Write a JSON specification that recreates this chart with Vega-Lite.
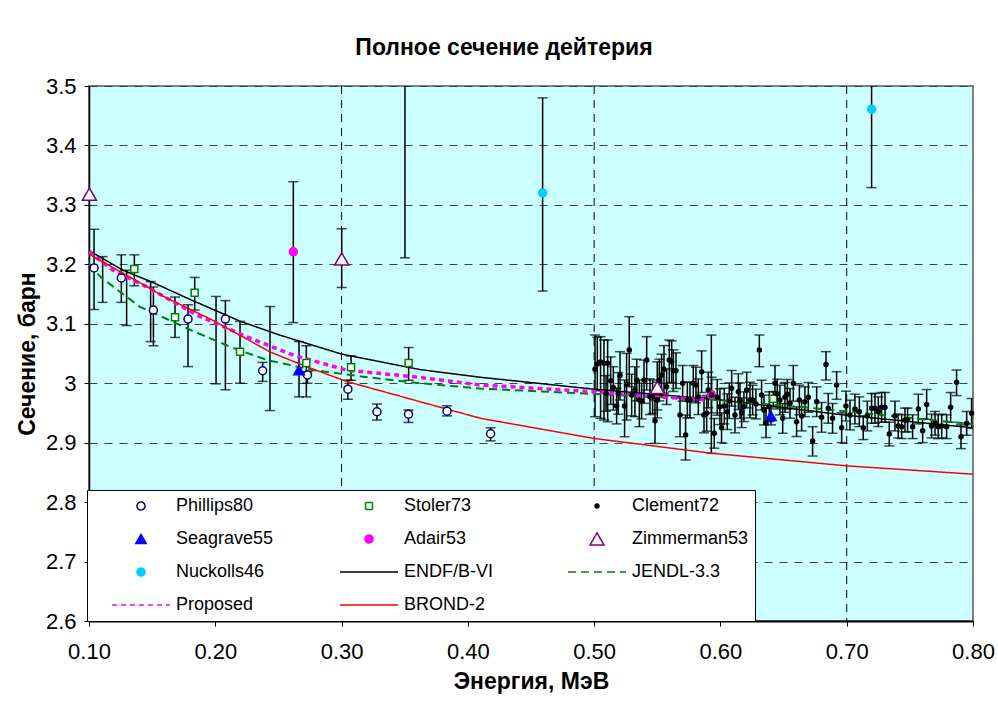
{
"$schema":"https://vega.github.io/schema/vega-lite/v6.json",
"autosize":{"type":"none"},
"padding":{"left":89,"top":86,"right":25,"bottom":93},
"width":884,"height":535,
"title":{"text":"Полное сечение дейтерия","fontSize":23,"fontWeight":"bold","font":"Liberation Sans","anchor":"middle","frame":"group","offset":15,"dx":-27,"color":"#000000"},
"datasets":{
"vg":[{"g":0.3},{"g":0.5},{"g":0.7}],
"pts":[
{"s":"Phillips80","x":0.104,"y":3.194,"lo":3.124,"hi":3.259},
{"s":"Phillips80","x":0.1256,"y":3.177,"lo":3.136,"hi":3.216},
{"s":"Phillips80","x":0.151,"y":3.123,"lo":3.063,"hi":3.162},
{"s":"Phillips80","x":0.1784,"y":3.108,"lo":3.028,"hi":3.132},
{"s":"Phillips80","x":0.208,"y":3.108,"lo":2.989,"hi":3.139},
{"s":"Phillips80","x":0.2375,"y":3.021,"lo":3.003,"hi":3.035},
{"s":"Phillips80","x":0.273,"y":3.014,"lo":3.000,"hi":3.0195},
{"s":"Phillips80","x":0.305,"y":2.990,"lo":2.973,"hi":3.005},
{"s":"Phillips80","x":0.328,"y":2.952,"lo":2.938,"hi":2.965},
{"s":"Phillips80","x":0.353,"y":2.948,"lo":2.934,"hi":2.955},
{"s":"Phillips80","x":0.3835,"y":2.953,"lo":2.945,"hi":2.962},
{"s":"Phillips80","x":0.418,"y":2.915,"lo":2.903,"hi":2.925},
{"s":"Phillips80","x":0.1108,"y":null,"lo":3.136,"hi":3.213},
{"s":"Phillips80","x":0.1298,"y":null,"lo":3.097,"hi":3.19},
{"s":"Phillips80","x":0.1488,"y":null,"lo":3.07,"hi":3.171},
{"s":"Phillips80","x":0.2006,"y":null,"lo":2.999,"hi":3.146},
{"s":"Phillips80","x":0.2433,"y":null,"lo":2.954,"hi":3.129},
{"s":"Stoler73","x":0.1359,"y":3.192,"lo":3.164,"hi":3.216},
{"s":"Stoler73","x":0.1681,"y":3.111,"lo":3.077,"hi":3.145},
{"s":"Stoler73","x":0.1837,"y":3.152,"lo":3.123,"hi":3.178},
{"s":"Stoler73","x":0.2196,"y":3.053,"lo":3.0,"hi":3.104},
{"s":"Stoler73","x":0.2721,"y":3.034,"lo":2.977,"hi":3.063},
{"s":"Stoler73","x":0.3075,"y":3.027,"lo":3.005,"hi":3.046},
{"s":"Stoler73","x":0.3531,"y":3.034,"lo":3.005,"hi":3.06},
{"s":"Stoler73","x":0.6418,"y":2.974,"lo":2.962,"hi":2.986},
{"s":"Seagrave55","x":0.2663,"y":3.022,"lo":2.977,"hi":3.07},
{"s":"Seagrave55","x":0.640,"y":2.945,"lo":2.93,"hi":2.96},
{"s":"Adair53","x":0.2618,"y":3.221,"lo":3.102,"hi":3.339},
{"s":"Adair53","x":0.5928,"y":2.981,"lo":2.882,"hi":3.081},
{"s":"Zimmerman53","x":0.1003,"y":3.318,"lo":null,"hi":null},
{"s":"Zimmerman53","x":0.3001,"y":3.209,"lo":3.161,"hi":3.26},
{"s":"Zimmerman53","x":0.550,"y":2.993,"lo":2.955,"hi":3.036},
{"s":"Nuckolls46","x":0.4592,"y":3.320,"lo":3.155,"hi":3.480},
{"s":"Nuckolls46","x":0.7197,"y":3.461,"lo":3.329,"hi":3.593},
{"s":"Nuckolls46","x":0.3502,"y":null,"lo":3.211,"hi":4.01},
{"s":"Clement72","x":0.5007,"y":3.0233,"lo":2.9437,"hi":3.0811},
{"s":"Clement72","x":0.5025,"y":3.0323,"lo":2.9873,"hi":3.0773},
{"s":"Clement72","x":0.5051,"y":3.0357,"lo":2.9409,"hi":3.0783},
{"s":"Clement72","x":0.5078,"y":3.0334,"lo":2.9381,"hi":3.0727},
{"s":"Clement72","x":0.5094,"y":2.9829,"lo":2.9529,"hi":3.0129},
{"s":"Clement72","x":0.5107,"y":3.0334,"lo":2.9353,"hi":3.0727},
{"s":"Clement72","x":0.5131,"y":3.0043,"lo":2.9643,"hi":3.0443},
{"s":"Clement72","x":0.5152,"y":2.9930,"lo":2.9549,"hi":3.0278},
{"s":"Clement72","x":0.5178,"y":2.9616,"lo":2.9316,"hi":2.9916},
{"s":"Clement72","x":0.5191,"y":2.9829,"lo":2.9479,"hi":3.0179},
{"s":"Clement72","x":0.5205,"y":3.0132,"lo":2.9717,"hi":3.0531},
{"s":"Clement72","x":0.5241,"y":2.9616,"lo":2.9100,"hi":3.0054},
{"s":"Clement72","x":0.5257,"y":2.9987,"lo":2.9381,"hi":3.0502},
{"s":"Clement72","x":0.5278,"y":3.0559,"lo":2.9942,"hi":3.1119},
{"s":"Clement72","x":0.5297,"y":2.9801,"lo":2.9451,"hi":3.0151},
{"s":"Clement72","x":0.5323,"y":2.9886,"lo":2.9437,"hi":3.0278},
{"s":"Clement72","x":0.5337,"y":3.0054,"lo":2.9704,"hi":3.0404},
{"s":"Clement72","x":0.5358,"y":2.9717,"lo":2.9269,"hi":3.0054},
{"s":"Clement72","x":0.5376,"y":2.9700,"lo":2.9400,"hi":3.0000},
{"s":"Clement72","x":0.5395,"y":3.0054,"lo":2.9662,"hi":3.0390},
{"s":"Clement72","x":0.5416,"y":3.0390,"lo":2.9886,"hi":3.0783},
{"s":"Clement72","x":0.5442,"y":2.9773,"lo":2.9473,"hi":3.0073},
{"s":"Clement72","x":0.5463,"y":2.9773,"lo":2.9493,"hi":3.0054},
{"s":"Clement72","x":0.5482,"y":2.9370,"lo":2.8988,"hi":2.9717},
{"s":"Clement72","x":0.5500,"y":2.9717,"lo":2.9417,"hi":3.0017},
{"s":"Clement72","x":0.5516,"y":3.0054,"lo":2.9704,"hi":3.0404},
{"s":"Clement72","x":0.5534,"y":3.0138,"lo":2.9788,"hi":3.0488},
{"s":"Clement72","x":0.5553,"y":3.0233,"lo":2.9833,"hi":3.0633},
{"s":"Clement72","x":0.5574,"y":2.9942,"lo":2.9642,"hi":3.0242},
{"s":"Clement72","x":0.5595,"y":3.0390,"lo":3.0000,"hi":3.0727},
{"s":"Clement72","x":0.5614,"y":3.0362,"lo":3.0012,"hi":3.0712},
{"s":"Clement72","x":0.5627,"y":3.0211,"lo":2.9861,"hi":3.0561},
{"s":"Clement72","x":0.5648,"y":3.0211,"lo":2.9911,"hi":3.0511},
{"s":"Clement72","x":0.5680,"y":2.9465,"lo":2.9100,"hi":2.9773},
{"s":"Clement72","x":0.5701,"y":2.9998,"lo":2.9698,"hi":3.0298},
{"s":"Clement72","x":0.5724,"y":2.9128,"lo":2.8708,"hi":2.9465},
{"s":"Clement72","x":0.5738,"y":2.9717,"lo":2.9417,"hi":3.0017},
{"s":"Clement72","x":0.5759,"y":2.9717,"lo":2.9417,"hi":3.0017},
{"s":"Clement72","x":0.5785,"y":2.9998,"lo":2.9698,"hi":3.0298},
{"s":"Clement72","x":0.5806,"y":2.9970,"lo":2.9670,"hi":3.0270},
{"s":"Clement72","x":0.5825,"y":2.9773,"lo":2.9473,"hi":3.0073},
{"s":"Clement72","x":0.5851,"y":3.0194,"lo":2.9844,"hi":3.0544},
{"s":"Clement72","x":0.5870,"y":2.9465,"lo":2.9165,"hi":2.9765},
{"s":"Clement72","x":0.5891,"y":2.9493,"lo":2.9193,"hi":2.9793},
{"s":"Clement72","x":0.5904,"y":2.9886,"lo":2.9586,"hi":3.0186},
{"s":"Clement72","x":0.5930,"y":2.9801,"lo":2.9501,"hi":3.0101},
{"s":"Clement72","x":0.5951,"y":2.9157,"lo":2.8907,"hi":2.9407},
{"s":"Clement72","x":0.5975,"y":2.9762,"lo":2.9462,"hi":3.0062},
{"s":"Clement72","x":0.5996,"y":2.9605,"lo":2.9305,"hi":2.9905},
{"s":"Clement72","x":0.6009,"y":2.9252,"lo":2.9002,"hi":2.9502},
{"s":"Clement72","x":0.6031,"y":2.9616,"lo":2.9316,"hi":2.9916},
{"s":"Clement72","x":0.6054,"y":2.9521,"lo":2.9221,"hi":2.9821},
{"s":"Clement72","x":0.6070,"y":2.9706,"lo":2.9406,"hi":3.0006},
{"s":"Clement72","x":0.6089,"y":2.9914,"lo":2.9614,"hi":3.0214},
{"s":"Clement72","x":0.6115,"y":2.9465,"lo":2.9165,"hi":2.9765},
{"s":"Clement72","x":0.6142,"y":2.9858,"lo":2.9558,"hi":3.0158},
{"s":"Clement72","x":0.6155,"y":2.9706,"lo":2.9406,"hi":3.0006},
{"s":"Clement72","x":0.6168,"y":2.9504,"lo":2.9254,"hi":2.9754},
{"s":"Clement72","x":0.6186,"y":2.9605,"lo":2.9355,"hi":2.9855},
{"s":"Clement72","x":0.6208,"y":2.9886,"lo":2.9586,"hi":3.0186},
{"s":"Clement72","x":0.6234,"y":2.9717,"lo":2.9417,"hi":3.0017},
{"s":"Clement72","x":0.6255,"y":2.9717,"lo":2.9467,"hi":2.9967},
{"s":"Clement72","x":0.6281,"y":2.9650,"lo":2.9400,"hi":2.9900},
{"s":"Clement72","x":0.6308,"y":3.0559,"lo":3.0278,"hi":3.0811},
{"s":"Clement72","x":0.6326,"y":2.9801,"lo":2.9551,"hi":3.0051},
{"s":"Clement72","x":0.6345,"y":2.9549,"lo":2.9299,"hi":2.9799},
{"s":"Clement72","x":0.6361,"y":2.9336,"lo":2.9086,"hi":2.9586},
{"s":"Clement72","x":0.6387,"y":2.9605,"lo":2.9355,"hi":2.9855},
{"s":"Clement72","x":0.6432,"y":2.9998,"lo":2.9698,"hi":3.0298},
{"s":"Clement72","x":0.6450,"y":2.9818,"lo":2.9568,"hi":3.0068},
{"s":"Clement72","x":0.6471,"y":2.9717,"lo":2.9467,"hi":2.9967},
{"s":"Clement72","x":0.6493,"y":2.9409,"lo":2.9159,"hi":2.9659},
{"s":"Clement72","x":0.6511,"y":2.9762,"lo":2.9512,"hi":3.0012},
{"s":"Clement72","x":0.6530,"y":2.9813,"lo":2.9563,"hi":3.0063},
{"s":"Clement72","x":0.6551,"y":2.9661,"lo":2.9411,"hi":2.9911},
{"s":"Clement72","x":0.6577,"y":2.9998,"lo":2.9698,"hi":3.0298},
{"s":"Clement72","x":0.6603,"y":2.9353,"lo":2.9103,"hi":2.9603},
{"s":"Clement72","x":0.6625,"y":2.9717,"lo":2.9467,"hi":2.9967},
{"s":"Clement72","x":0.6643,"y":2.9448,"lo":2.9198,"hi":2.9698},
{"s":"Clement72","x":0.6669,"y":2.9689,"lo":2.9439,"hi":2.9939},
{"s":"Clement72","x":0.6696,"y":2.9762,"lo":2.9512,"hi":3.0012},
{"s":"Clement72","x":0.6730,"y":2.9027,"lo":2.8775,"hi":2.9269},
{"s":"Clement72","x":0.6762,"y":2.9689,"lo":2.9439,"hi":2.9939},
{"s":"Clement72","x":0.6801,"y":2.9426,"lo":2.9176,"hi":2.9676},
{"s":"Clement72","x":0.6836,"y":3.0317,"lo":3.0054,"hi":3.0531},
{"s":"Clement72","x":0.6854,"y":2.9577,"lo":2.9327,"hi":2.9827},
{"s":"Clement72","x":0.6888,"y":2.9409,"lo":2.9159,"hi":2.9659},
{"s":"Clement72","x":0.6920,"y":2.9970,"lo":2.9729,"hi":3.0194},
{"s":"Clement72","x":0.6960,"y":2.9252,"lo":2.9002,"hi":2.9502},
{"s":"Clement72","x":0.6994,"y":2.9616,"lo":2.9366,"hi":2.9866},
{"s":"Clement72","x":0.7026,"y":2.9465,"lo":2.9215,"hi":2.9715},
{"s":"Clement72","x":0.7065,"y":2.9566,"lo":2.9316,"hi":2.9816},
{"s":"Clement72","x":0.7100,"y":2.9521,"lo":2.9271,"hi":2.9771},
{"s":"Clement72","x":0.7131,"y":2.9252,"lo":2.9052,"hi":2.9452},
{"s":"Clement72","x":0.7163,"y":2.9448,"lo":2.9198,"hi":2.9698},
{"s":"Clement72","x":0.7197,"y":2.9577,"lo":2.9327,"hi":2.9827},
{"s":"Clement72","x":0.7224,"y":2.9577,"lo":2.9327,"hi":2.9827},
{"s":"Clement72","x":0.7250,"y":2.9521,"lo":2.9271,"hi":2.9771},
{"s":"Clement72","x":0.7276,"y":2.9594,"lo":2.9344,"hi":2.9844},
{"s":"Clement72","x":0.7303,"y":2.9594,"lo":2.9344,"hi":2.9844},
{"s":"Clement72","x":0.7337,"y":2.9145,"lo":2.8945,"hi":2.9345},
{"s":"Clement72","x":0.7382,"y":2.9448,"lo":2.9198,"hi":2.9698},
{"s":"Clement72","x":0.7408,"y":2.9280,"lo":2.9080,"hi":2.9480},
{"s":"Clement72","x":0.7435,"y":2.9269,"lo":2.9069,"hi":2.9469},
{"s":"Clement72","x":0.7461,"y":2.9381,"lo":2.9181,"hi":2.9581},
{"s":"Clement72","x":0.7482,"y":2.9381,"lo":2.9181,"hi":2.9581},
{"s":"Clement72","x":0.7522,"y":2.9269,"lo":2.9069,"hi":2.9469},
{"s":"Clement72","x":0.7567,"y":2.9566,"lo":2.9316,"hi":2.9816},
{"s":"Clement72","x":0.7601,"y":2.9201,"lo":2.9001,"hi":2.9401},
{"s":"Clement72","x":0.7633,"y":2.9644,"lo":2.9394,"hi":2.9894},
{"s":"Clement72","x":0.7672,"y":2.9280,"lo":2.9080,"hi":2.9480},
{"s":"Clement72","x":0.7699,"y":2.9325,"lo":2.9125,"hi":2.9525},
{"s":"Clement72","x":0.7725,"y":2.9269,"lo":2.9069,"hi":2.9469},
{"s":"Clement72","x":0.7752,"y":2.9280,"lo":2.9080,"hi":2.9480},
{"s":"Clement72","x":0.7791,"y":2.9269,"lo":2.9069,"hi":2.9469},
{"s":"Clement72","x":0.7823,"y":2.9594,"lo":2.9344,"hi":2.9844},
{"s":"Clement72","x":0.7870,"y":3.0015,"lo":2.9792,"hi":3.0222},
{"s":"Clement72","x":0.7905,"y":2.9100,"lo":2.8900,"hi":2.9300},
{"s":"Clement72","x":0.7950,"y":2.9325,"lo":2.9125,"hi":2.9525},
{"s":"Clement72","x":0.7989,"y":2.9493,"lo":2.9243,"hi":2.9743}
],
"curves":[
{"s":"ENDF/B-VI","x":0.1,"y":3.223},{"s":"ENDF/B-VI","x":0.127,"y":3.190},{"s":"ENDF/B-VI","x":0.151,"y":3.169},{"s":"ENDF/B-VI","x":0.18,"y":3.141},{"s":"ENDF/B-VI","x":0.22,"y":3.104},{"s":"ENDF/B-VI","x":0.251,"y":3.081},{"s":"ENDF/B-VI","x":0.3,"y":3.049},{"s":"ENDF/B-VI","x":0.362,"y":3.023},{"s":"ENDF/B-VI","x":0.41,"y":3.010},{"s":"ENDF/B-VI","x":0.5,"y":2.990},{"s":"ENDF/B-VI","x":0.6,"y":2.972},{"s":"ENDF/B-VI","x":0.7,"y":2.946},{"s":"ENDF/B-VI","x":0.8,"y":2.925},
{"s":"JENDL-3.3","x":0.1,"y":3.201},{"s":"JENDL-3.3","x":0.109,"y":3.179},{"s":"JENDL-3.3","x":0.14,"y":3.129},{"s":"JENDL-3.3","x":0.18,"y":3.090},{"s":"JENDL-3.3","x":0.212,"y":3.061},{"s":"JENDL-3.3","x":0.241,"y":3.039},{"s":"JENDL-3.3","x":0.278,"y":3.022},{"s":"JENDL-3.3","x":0.317,"y":3.011},{"s":"JENDL-3.3","x":0.362,"y":3.000},{"s":"JENDL-3.3","x":0.41,"y":2.991},{"s":"JENDL-3.3","x":0.5,"y":2.982},{"s":"JENDL-3.3","x":0.594,"y":2.972},{"s":"JENDL-3.3","x":0.674,"y":2.958},{"s":"JENDL-3.3","x":0.8,"y":2.931},
{"s":"Proposed","x":0.1,"y":3.221},{"s":"Proposed","x":0.119,"y":3.190},{"s":"Proposed","x":0.146,"y":3.162},{"s":"Proposed","x":0.185,"y":3.115},{"s":"Proposed","x":0.225,"y":3.078},{"s":"Proposed","x":0.262,"y":3.047},{"s":"Proposed","x":0.304,"y":3.022},{"s":"Proposed","x":0.357,"y":3.011},{"s":"Proposed","x":0.41,"y":2.997},{"s":"Proposed","x":0.497,"y":2.986},{"s":"Proposed","x":0.549,"y":2.977},{"s":"Proposed","x":0.59,"y":2.972},
{"s":"BROND-2","x":0.1,"y":3.217},{"s":"BROND-2","x":0.127,"y":3.185},{"s":"BROND-2","x":0.159,"y":3.146},{"s":"BROND-2","x":0.198,"y":3.106},{"s":"BROND-2","x":0.243,"y":3.053},{"s":"BROND-2","x":0.272,"y":3.028},{"s":"BROND-2","x":0.304,"y":3.003},{"s":"BROND-2","x":0.362,"y":2.969},{"s":"BROND-2","x":0.41,"y":2.941},{"s":"BROND-2","x":0.5,"y":2.907},{"s":"BROND-2","x":0.594,"y":2.882},{"s":"BROND-2","x":0.7,"y":2.861},{"s":"BROND-2","x":0.8,"y":2.847}
]
},
"layer":[
{"data":{"name":"vg"},"mark":{"type":"rule","color":"#000000","strokeWidth":1,"strokeDash":[8,6]},
 "encoding":{"x":{"field":"g","type":"quantitative","scale":{"domain":[0.1,0.8],"nice":false,"zero":false},
  "axis":{"values":[0.1,0.2,0.3,0.4,0.5,0.6,0.7,0.8],"format":".2f","grid":false,"labelFlush":false,"tickSize":5,"labelPadding":15,"domainWidth":2,"title":"Энергия, МэВ","titlePadding":8}}}},
{"data":{"name":"pts"},"transform":[{"filter":"datum.lo != null"}],"mark":{"type":"rule","color":"#000000","strokeWidth":1.5,"clip":true},
 "encoding":{"x":{"field":"x","type":"quantitative"},
  "y":{"field":"lo","type":"quantitative","scale":{"domain":[2.6,3.5],"nice":false,"zero":false},
   "axis":{"values":[2.6,2.7,2.8,2.9,3.0,3.1,3.2,3.3,3.4,3.5],"format":".2~f","grid":true,"labelFlush":false,"gridColor":"#404040","gridDash":[8,7],"gridWidth":1,"tickSize":5,"labelPadding":8,"domainWidth":1.5,"title":"Сечение, барн","titlePadding":6}},
  "y2":{"field":"hi"}}},
{"data":{"name":"pts"},"transform":[{"filter":"datum.lo != null"}],"mark":{"type":"tick","orient":"horizontal","color":"#000000","size":10,"thickness":1.5,"clip":true},
 "encoding":{"x":{"field":"x","type":"quantitative"},"y":{"field":"lo","type":"quantitative"}}},
{"data":{"name":"pts"},"transform":[{"filter":"datum.hi != null"}],"mark":{"type":"tick","orient":"horizontal","color":"#000000","size":10,"thickness":1.5,"clip":true},
 "encoding":{"x":{"field":"x","type":"quantitative"},"y":{"field":"hi","type":"quantitative"}}},
{"data":{"name":"curves"},"transform":[{"filter":"datum.s == 'ENDF/B-VI'"}],"mark":{"type":"line","strokeWidth":1.5,"clip":true},
 "encoding":{"x":{"field":"x","type":"quantitative"},"y":{"field":"y","type":"quantitative"},
  "stroke":{"field":"s","type":"nominal","legend":{"title":null}},
  "strokeDash":{"field":"s","type":"nominal","scale":{"domain":["Phillips80","Stoler73","Clement72","Seagrave55","Adair53","Zimmerman53","Nuckolls46","ENDF/B-VI","JENDL-3.3","Proposed","BROND-2"],"range":[[1,0],[1,0],[1,0],[1,0],[1,0],[1,0],[1,0],[1,0],[8,5],[5,4],[1,0]]},"legend":{"title":null}}}},
{"data":{"name":"curves"},"transform":[{"filter":"datum.s == 'JENDL-3.3'"}],"mark":{"type":"line","strokeWidth":2,"clip":true},
 "encoding":{"x":{"field":"x","type":"quantitative"},"y":{"field":"y","type":"quantitative"},
  "stroke":{"field":"s","type":"nominal","legend":{"title":null}},"strokeDash":{"field":"s","type":"nominal","legend":{"title":null}}}},
{"data":{"name":"curves"},"transform":[{"filter":"datum.s == 'Proposed'"}],"mark":{"type":"line","strokeWidth":3.5,"clip":true},
 "encoding":{"x":{"field":"x","type":"quantitative"},"y":{"field":"y","type":"quantitative"},
  "stroke":{"field":"s","type":"nominal","legend":{"title":null}},"strokeDash":{"field":"s","type":"nominal","legend":{"title":null}}}},
{"data":{"name":"curves"},"transform":[{"filter":"datum.s == 'BROND-2'"}],"mark":{"type":"line","strokeWidth":1.5,"clip":true},
 "encoding":{"x":{"field":"x","type":"quantitative"},"y":{"field":"y","type":"quantitative"},
  "stroke":{"field":"s","type":"nominal","legend":{"title":null}},"strokeDash":{"field":"s","type":"nominal","legend":{"title":null}}}},
{"data":{"name":"pts"},"transform":[{"filter":"datum.y != null"}],"mark":{"type":"point","filled":true,"opacity":1,"strokeWidth":1.5},
 "encoding":{"x":{"field":"x","type":"quantitative"},"y":{"field":"y","type":"quantitative"},
  "shape":{"field":"s","type":"nominal","scale":{"domain":["Phillips80","Stoler73","Clement72","Seagrave55","Adair53","Zimmerman53","Nuckolls46","ENDF/B-VI","JENDL-3.3","Proposed","BROND-2"],"range":["circle","square","circle","triangle-up","circle","triangle-up","circle","stroke","stroke","stroke","stroke"]},"legend":{"title":null}},
  "fill":{"field":"s","type":"nominal","scale":{"domain":["Phillips80","Stoler73","Clement72","Seagrave55","Adair53","Zimmerman53","Nuckolls46","ENDF/B-VI","JENDL-3.3","Proposed","BROND-2"],"range":["#ffffff","#ffffff","#000000","#0000ff","#ff00ff","#ffffff","#00ccff","transparent","transparent","transparent","transparent"]},"legend":{"title":null}},
  "size":{"field":"s","type":"nominal","scale":{"type":"ordinal","domain":["Phillips80","Stoler73","Clement72","Seagrave55","Adair53","Zimmerman53","Nuckolls46","ENDF/B-VI","JENDL-3.3","Proposed","BROND-2"],"range":[64,49,16,110,64,200,64,3364,3364,3364,3364]},"legend":{"title":null}},
  "stroke":{"field":"s","type":"nominal","scale":{"domain":["Phillips80","Stoler73","Clement72","Seagrave55","Adair53","Zimmerman53","Nuckolls46","ENDF/B-VI","JENDL-3.3","Proposed","BROND-2"],"range":["#000080","#008000","#000000","#0000ff","#ff00ff","#800080","#00ccff","#000000","#008000","#ff00ff","#ff0000"]},"legend":{"title":null}}}}
],
"config":{
 "font":"Liberation Sans",
 "view":{"fill":"#CCFFFF","stroke":"#808080","strokeWidth":2},
 "axis":{"labelFont":"Liberation Sans","labelFontSize":22,"labelColor":"#000000","titleFont":"Liberation Sans","titleFontSize":23,"titleFontWeight":"bold","titleColor":"#000000","tickColor":"#000000","domainColor":"#000000","tickWidth":1},
 "legend":{"orient":"none","legendX":-2,"legendY":404,"direction":"horizontal","columns":3,"gridAlign":"all","columnPadding":28,"rowPadding":13,"padding":6,"fillColor":"#ffffff","strokeColor":"#000000","clipHeight":20,"symbolOffset":18,"labelOffset":5,"labelFontSize":18,"labelFont":"Liberation Sans","labelColor":"#000000","labelLimit":300,"symbolStrokeWidth":1.5}
}
}
